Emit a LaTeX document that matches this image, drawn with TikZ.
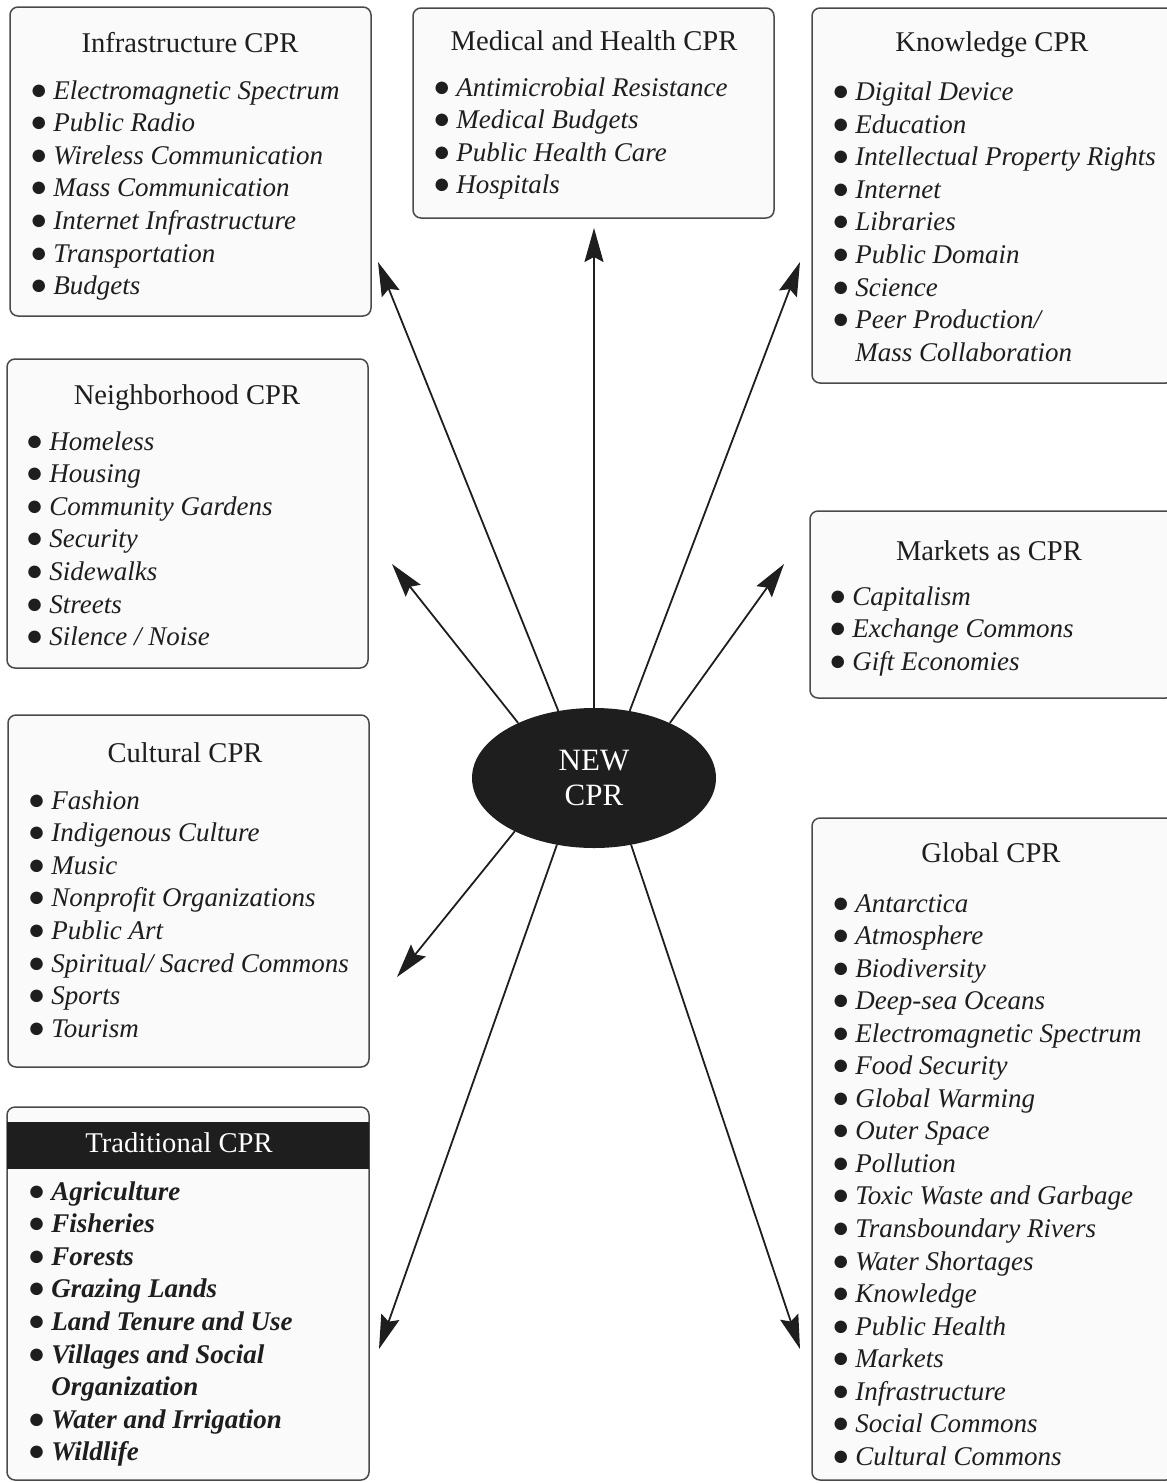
\documentclass[tikz,border=0pt]{standalone}
\usepackage{fontspec}
\setmainfont{Liberation Serif}
\usetikzlibrary{fit,shapes.geometric,arrows.meta}

\definecolor{ink}{HTML}{1e1e1e}
\definecolor{frame}{HTML}{4a4a4a}
\definecolor{paper}{HTML}{fafafa}
\definecolor{hub}{HTML}{1e1e1e}

\newcommand{\bul}{\makebox[10.5pt][l]{\hspace{-1.2pt}{\upshape\mdseries\fontsize{14.5}{14.5}\selectfont ●}}}

\begin{document}
\begin{tikzpicture}[
  x=0.5pt, y=-0.5pt,
  line cap=round, line join=round,
  every node/.style={text=ink, inner sep=0pt},
  box/.style={draw=frame, fill=paper, line width=0.75pt, rounded corners=4pt, inner sep=0pt},
  band/.style={fill=hub, inner sep=0pt},
  title/.style={anchor=base, font=\fontsize{14.3}{17}\selectfont},
  item/.style={anchor=base west, font=\fontsize{13.5}{16.3}\selectfont\itshape},
  bolditem/.style={item, font=\fontsize{13.5}{16.3}\selectfont\itshape\bfseries},
  hubnode/.style={ellipse, fill=hub, minimum width=122pt, minimum height=70pt, align=center,
    text=white, font=\fontsize{15.5}{17.5}\selectfont},
  arrow/.style={draw=ink, line width=0.9pt, -{Stealth[length=17pt,width=9.5pt,inset=2.5pt]}},
]
\useasboundingbox (0,0) rectangle (1167,1483);

% boxes
\node[box, fit={(10,7) (371,316)}] (infra) {};
\node[box, fit={(413,8) (774,218)}] (medical) {};
\node[box, fit={(812,8) (1174,383)}] (knowledge) {};
\node[box, fit={(7,359) (368,668)}] (neighbor) {};
\node[box, fit={(810,511) (1174,698)}] (markets) {};
\node[box, fit={(8,715) (369,1067)}] (cultural) {};
\node[box, fit={(812,818) (1174,1480)}] (global) {};
\node[box, fit={(7,1107) (369,1480)}] (trad) {};
\node[band, fit={(7,1122) (369,1169)}] (trad-band) {};

% titles
\node[title] (infra-t) at (190,53) {Infrastructure CPR};
\node[title] (medical-t) at (594,50) {Medical and Health CPR};
\node[title] (knowledge-t) at (992,51) {Knowledge CPR};
\node[title] (neighbor-t) at (187,404) {Neighborhood CPR};
\node[title] (markets-t) at (989,560) {Markets as CPR};
\node[title] (cultural-t) at (185,762) {Cultural CPR};
\node[title] (global-t) at (991,862) {Global CPR};
\node[title, text=white] (trad-t) at (179,1152) {Traditional CPR};

% items
\foreach \t [count=\k] in {Electromagnetic Spectrum, Public Radio, Wireless Communication,
  Mass Communication, Internet Infrastructure, Transportation, Budgets}
  \node[item] (infra-\k) at (32,99+32.6*\k-32.6) {\bul\t};
\foreach \t [count=\k] in {Antimicrobial Resistance, Medical Budgets, Public Health Care, Hospitals}
  \node[item] (medical-\k) at (435,96+32.6*\k-32.6) {\bul\t};
\foreach \t [count=\k] in {Digital Device, Education, Intellectual Property Rights, Internet,
  Libraries, Public Domain, Science, Peer Production/}
  \node[item] (knowledge-\k) at (834,100.5+32.6*\k-32.6) {\bul\t};
\node[item] (knowledge-9) at (855,361.3) {Mass Collaboration};
\foreach \t [count=\k] in {Homeless, Housing, Community Gardens, Security, Sidewalks,
  Streets, Silence / Noise}
  \node[item] (neighbor-\k) at (28,450+32.6*\k-32.6) {\bul\t};
\foreach \t [count=\k] in {Capitalism, Exchange Commons, Gift Economies}
  \node[item] (markets-\k) at (831,605+32.6*\k-32.6) {\bul\t};
\foreach \t [count=\k] in {Fashion, Indigenous Culture, Music, Nonprofit Organizations,
  Public Art, Spiritual/ Sacred Commons, Sports, Tourism}
  \node[item] (cultural-\k) at (30,809+32.6*\k-32.6) {\bul\t};
\foreach \t [count=\k] in {Antarctica, Atmosphere, Biodiversity, Deep-sea Oceans,
  Electromagnetic Spectrum, Food Security, Global Warming, Outer Space, Pollution,
  Toxic Waste and Garbage, Transboundary Rivers, Water Shortages, Knowledge,
  Public Health, Markets, Infrastructure, Social Commons, Cultural Commons}
  \node[item] (global-\k) at (834,912+32.55*\k-32.55) {\bul\t};
\foreach \t [count=\k] in {Agriculture, Fisheries, Forests, Grazing Lands,
  Land Tenure and Use, Villages and Social}
  \node[bolditem] (trad-\k) at (30,1200+32.6*\k-32.6) {\bul\t};
\node[bolditem] (trad-7) at (51,1395.6) {Organization};
\node[bolditem] (trad-8) at (30,1428.2) {\bul Water and Irrigation};
\node[bolditem] (trad-9) at (30,1460.8) {\bul Wildlife};

% hub
\node[hubnode] (new) at (594,778) {NEW\\CPR};

% arrow tips
\coordinate (to-infra) at (378,262);
\coordinate (to-medical) at (594,228);
\coordinate (to-knowledge) at (800,262);
\coordinate (to-neighbor) at (392,564);
\coordinate (to-markets) at (784,564);
\coordinate (to-cultural) at (397,977);
\coordinate (to-trad) at (379,1349);
\coordinate (to-global) at (800,1349);

\draw[arrow] (new.118) -- (to-infra);
\draw[arrow] (new.90) -- (to-medical);
\draw[arrow] (new.62) -- (to-knowledge);
\draw[arrow] (new.144) -- (to-neighbor);
\draw[arrow] (new.36) -- (to-markets);
\draw[arrow] (new.214) -- (to-cultural);
\draw[arrow] (new.241) -- (to-trad);
\draw[arrow] (new.299) -- (to-global);
\end{tikzpicture}
\end{document}
